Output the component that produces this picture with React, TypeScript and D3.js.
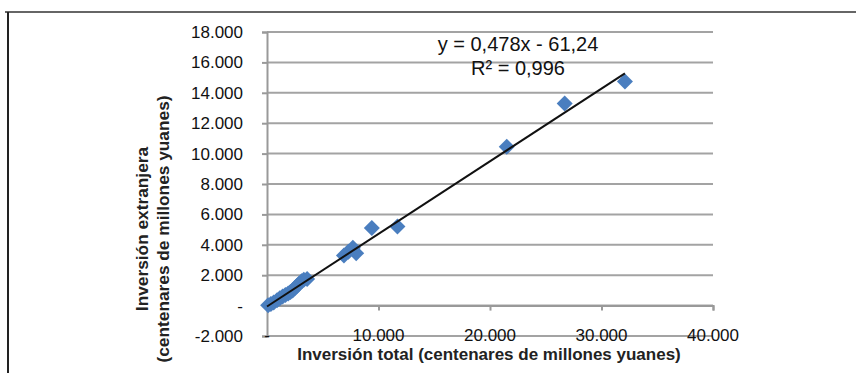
import React, { useEffect, useRef } from 'react'
import * as d3 from 'd3'

// inversión total / inversión extranjera (centenares de millones yuanes)
const totalInvestment = [
  100, 350, 600, 900, 1150, 1400, 1650, 1900, 2100, 2300, 2500, 2700, 2900, 3100, 3300, 3600,
  6900, 7300, 7700, 8000, 9400, 11700, 21500, 26700, 32100
]
const foreignInvestment = [
  20, 100, 200, 350, 480, 600, 700, 800, 900, 1000, 1150, 1300, 1450, 1600, 1700, 1750,
  3300, 3550, 3800, 3450, 5100, 5200, 10450, 13300, 14750
]
const xTicks = [0, 10000, 20000, 30000, 40000]
const yTicks = [-2000, 0, 2000, 4000, 6000, 8000, 10000, 12000, 14000, 16000, 18000]
const slope = 0.478
const intercept = -61.24
const equationLines = ['y = 0,478x - 61,24', 'R² = 0,996']
const yTitleLines = ['Inversión extranjera', '(centenares de millones yuanes)']
const xTitle = 'Inversión total (centenares de millones yuanes)'

const W = 856
const H = 373
const font = '"Liberation Sans", Arial, sans-serif'

const esFormat = d3.formatLocale({
  decimal: ',',
  thousands: '.',
  grouping: [3],
  currency: ['', ''],
  minus: '-'
}).format(',.0f')
const tickLabel = (v: number) => (v === 0 ? '-' : esFormat(v))

export default function App() {
  const ref = useRef<SVGSVGElement>(null)

  useEffect(() => {
    const svg = d3.select(ref.current)
    svg.selectAll('*').remove()

    const x = d3.scaleLinear().domain([0, 40000]).range([267, 713])
    const y = d3.scaleLinear().domain([-2000, 18000]).range([336, 32])

    // frame
    svg.append('line').attr('x1', 5).attr('x2', W).attr('y1', 12).attr('y2', 12)
      .attr('stroke', '#666').attr('stroke-width', 2)
    svg.append('line').attr('x1', 8).attr('x2', 8).attr('y1', 12).attr('y2', H)
      .attr('stroke', '#222').attr('stroke-width', 2)

    // gridlines
    svg.append('g').selectAll('line').data(yTicks).enter().append('line')
      .attr('x1', x(0)).attr('x2', x(40000))
      .attr('y1', d => y(d)).attr('y2', d => y(d))
      .attr('stroke', '#a3a3a3').attr('stroke-width', 2)

    // y axis
    svg.append('g')
      .attr('transform', `translate(${x(0)},0)`)
      .call(d3.axisLeft(y).tickValues(yTicks).tickSize(5).tickPadding(19).tickFormat(tickLabel as any))
      .call(g => {
        g.select('.domain').attr('stroke', '#999').attr('stroke-width', 2)
        g.selectAll('.tick line').attr('stroke', '#999').attr('stroke-width', 2)
        g.selectAll('.tick text').attr('font-size', 17).attr('font-family', font).attr('fill', '#111')
      })

    // x axis at y = 0, labels sit low on the -2.000 line
    svg.append('g')
      .attr('transform', `translate(0,${y(0)})`)
      .call(d3.axisBottom(x).tickValues(xTicks).tickSize(5).tickFormat(() => ''))
      .call(g => {
        g.select('.domain').attr('stroke', '#999').attr('stroke-width', 2)
        g.selectAll('.tick line').attr('stroke', '#999').attr('stroke-width', 2)
      })
    svg.append('g').selectAll('text').data(xTicks).enter().append('text')
      .attr('x', d => x(d)).attr('y', y(-2000) + 4.5)
      .attr('text-anchor', 'middle')
      .attr('font-size', 17).attr('font-family', font).attr('fill', '#111')
      .text(d => tickLabel(d))

    // points
    const points = totalInvestment.map((t, i) => ({ t, f: foreignInvestment[i] }))
    const diamond = d3.symbol().type(d3.symbolSquare).size(128)
    svg.append('g').selectAll('path').data(points).enter().append('path')
      .attr('d', diamond)
      .attr('transform', d => `translate(${x(d.t)},${y(d.f)}) rotate(45)`)
      .attr('fill', '#4a7ebf')

    // trendline
    const [xMin, xMax] = d3.extent(totalInvestment) as [number, number]
    const trend = d3.line<number>().x(d => x(d)).y(d => y(slope * d + intercept))
    svg.append('path')
      .attr('d', trend([Math.max(0, xMin - 100), xMax]))
      .attr('stroke', '#111').attr('stroke-width', 2).attr('fill', 'none')

    // equation
    svg.append('g').selectAll('text').data(equationLines).enter().append('text')
      .attr('x', 518).attr('y', (d, i) => 51 + i * 24)
      .attr('text-anchor', 'middle')
      .attr('font-size', 20).attr('font-family', font).attr('fill', '#111')
      .text(d => d)

    // axis titles
    svg.append('text')
      .attr('x', x(20000) - 1).attr('y', 360)
      .attr('text-anchor', 'middle')
      .attr('font-size', 17).attr('font-weight', 'bold').attr('font-family', font).attr('fill', '#222')
      .text(xTitle)
    svg.append('g')
      .attr('transform', 'translate(0,229) rotate(-90)')
      .selectAll('text').data(yTitleLines).enter().append('text')
      .attr('x', 0).attr('y', (d, i) => 148 + i * 21)
      .attr('text-anchor', 'middle')
      .attr('font-size', 17.3).attr('font-weight', 'bold').attr('font-family', font).attr('fill', '#222')
      .text(d => d)
  }, [])

  return (
    <div style={{ position: 'absolute', left: 0, top: 0, width: W, height: H, background: '#fff' }}>
      <svg ref={ref} width={W} height={H} />
    </div>
  )
}
